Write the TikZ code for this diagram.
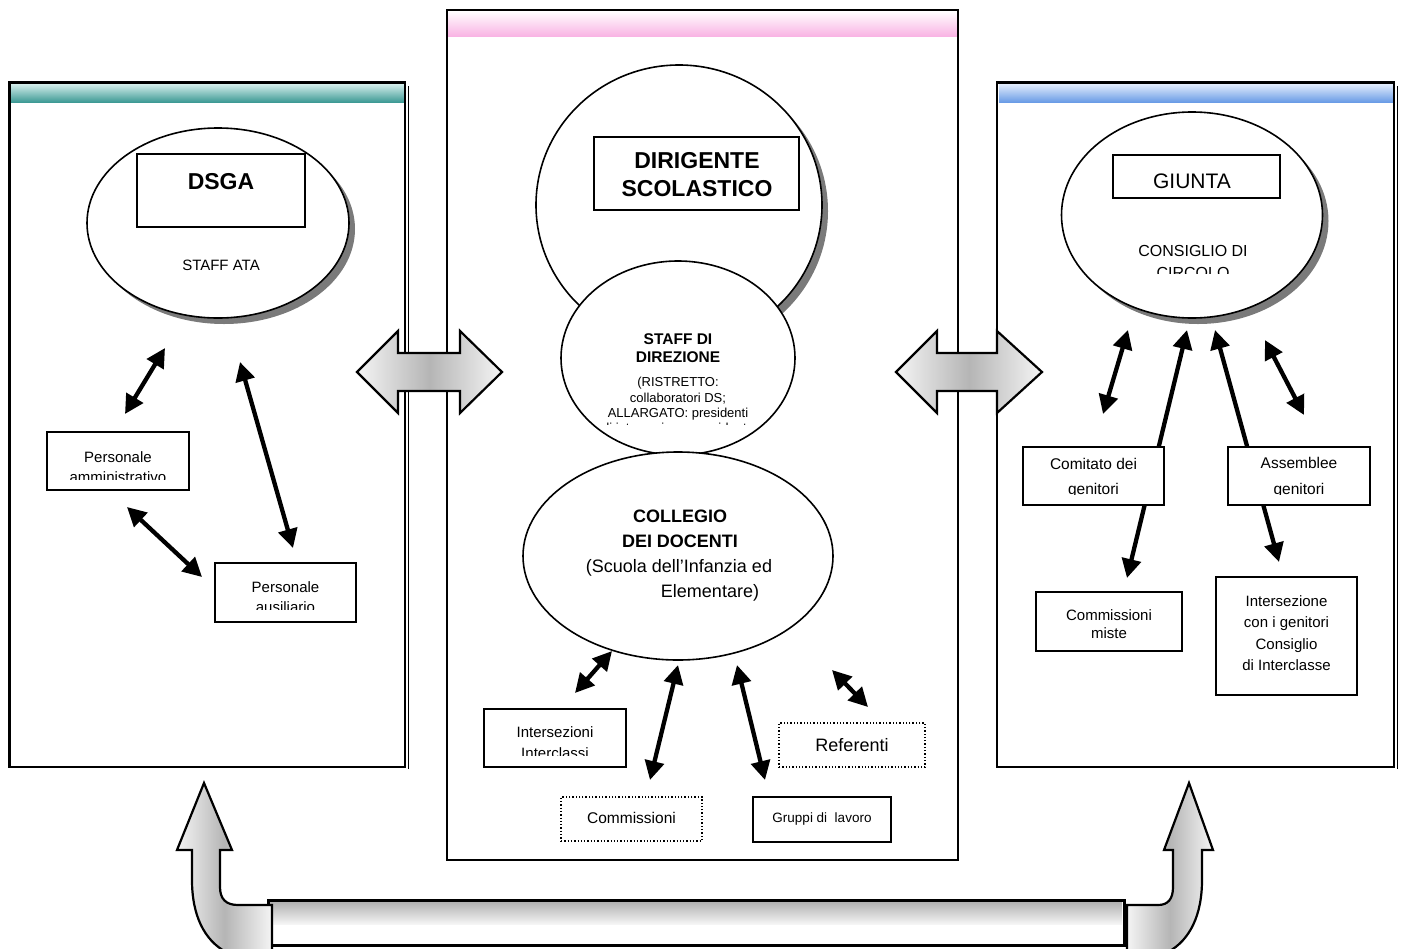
\documentclass[tikz,border=0pt]{standalone}
\usepackage{fontspec}
\setmainfont{Liberation Sans}
\usetikzlibrary{shapes.geometric,arrows.meta,shadows}
\definecolor{tealA}{HTML}{D4EEEC}
\definecolor{tealB}{HTML}{3E9A95}
\definecolor{blueA}{HTML}{E2ECFC}
\definecolor{blueB}{HTML}{6A9CE6}
\definecolor{pinkB}{HTML}{F9B4E4}
\definecolor{shad}{HTML}{7A7A7A}
\newcommand\fsz[1]{\fontsize{#1}{#1}\selectfont}
\begin{document}
\begin{tikzpicture}[x=1pt,y=-1pt,
  panel/.style={draw, line width=2.6pt},
  oval/.style={ellipse, draw, line width=1.6pt, fill=white, inner sep=0pt},
  shadoval/.style={oval, drop shadow={shadow xshift=6pt, shadow yshift=-6pt, fill=shad, opacity=1}},
  box/.style={draw, line width=1.5pt, fill=white, inner sep=0pt},
  dotbox/.style={draw, line width=1.3pt, dotted, fill=white, inner sep=0pt},
  tl/.style={anchor=base, inner sep=0pt, font=\fsz{15}},
  biarrow/.style={{Triangle[length=19pt,width=19pt]}-{Triangle[length=19pt,width=19pt]}, line width=4.3pt},
  blockshade/.style={draw, line width=2.2pt, line join=miter, left color=gray!8, right color=gray!8, middle color=gray!58},
]
\useasboundingbox (0,0) rectangle (1403,948);

% ---------- panels ----------
\shade[top color=tealA, bottom color=tealB] (11,84) rectangle (404,102);
\draw[panel] (9.5,82.5) rectangle (405,767);
\draw[line width=1pt] (408,86) -- (408,769);

\shade[top color=white, bottom color=pinkB] (448,11) rectangle (957,36);
\draw[line width=2pt] (447,10) rectangle (958,860);

\shade[top color=blueA, bottom color=blueB] (999,84) rectangle (1393,102);
\draw[panel] (997,82.5) rectangle (1394,767);
\draw[line width=1pt] (1397,86) -- (1397,769);

% ---------- left panel ----------
\node[shadoval, minimum width=262pt, minimum height=190pt] (dsgaE) at (218,223) {};
\node[box, minimum width=168pt, minimum height=73pt] (dsga) at (221,190.5) {};
\node[tl, font=\bfseries\fsz{23}] (dsgat) at (221,189) {DSGA};
\node[tl] (ata) at (221,270) {STAFF ATA};

\coordinate (l1a) at (165,348); \coordinate (l1b) at (125,414);
\coordinate (l2a) at (240,362); \coordinate (l2b) at (293,548);
\coordinate (l3a) at (127,507); \coordinate (l3b) at (202,577);
\draw[biarrow] (l1a) -- (l1b);
\draw[biarrow] (l2a) -- (l2b);
\draw[biarrow] (l3a) -- (l3b);

\node[box, minimum width=142pt, minimum height=58pt] (pa) at (118,461) {};
\begin{scope}
\clip (49,434) rectangle (187,479.5);
\node[tl] (pa1) at (118,462) {Personale};
\node[tl] (pa2) at (118,482) {amministrativo};
\end{scope}
\node[box, minimum width=141pt, minimum height=59pt] (pau) at (285.5,592.5) {};
\begin{scope}
\clip (217,565) rectangle (354,609.5);
\node[tl] (pau1) at (285.5,592) {Personale};
\node[tl] (pau2) at (285.5,612) {ausiliario};
\end{scope}

% ---------- middle panel ----------
\node[shadoval, minimum width=286pt, minimum height=280pt] (ds) at (679,205) {};
\node[box, minimum width=205pt, minimum height=73pt] (dsbox) at (696.5,173.5) {};
\node[tl, font=\bfseries\fsz{23}] (ds1) at (697,168) {DIRIGENTE};
\node[tl, font=\bfseries\fsz{23}] (ds2) at (697,196) {SCOLASTICO};

\node[oval, minimum width=234pt, minimum height=194pt] (staff) at (678,358) {};
\node[tl, font=\bfseries\fsz{15.5}] (st1) at (678,344) {STAFF DI};
\node[tl, font=\bfseries\fsz{15.5}] (st2) at (678,362) {DIREZIONE};
\begin{scope}
\clip (580,368) rectangle (780,424.5);
\node[tl, font=\fsz{13}] (st3) at (678,386) {(RISTRETTO:};
\node[tl, font=\fsz{13}] (st4) at (678,402) {collaboratori DS;};
\node[tl, font=\fsz{13}] (st5) at (678,417) {ALLARGATO: presidenti};
\node[tl, font=\fsz{13}] (st6) at (678,432.5) {di intersezione, presidente};
\end{scope}

\node[oval, minimum width=310pt, minimum height=208pt] (coll) at (678,556) {};
\node[tl, font=\bfseries\fsz{18}] (co1) at (680,522) {COLLEGIO};
\node[tl, font=\bfseries\fsz{18}] (co2) at (680,547) {DEI DOCENTI};
\node[tl, font=\fsz{18}] (co3) at (679,572) {(Scuola dell’Infanzia ed};
\node[tl, font=\fsz{18}] (co4) at (710,597) {Elementare)};

\coordinate (m1a) at (612,651); \coordinate (m1b) at (575,693);
\coordinate (m2a) at (678,665); \coordinate (m2b) at (650,780);
\coordinate (m3a) at (737,665); \coordinate (m3b) at (765,780);
\coordinate (m4a) at (832,670); \coordinate (m4b) at (868,707);
\draw[biarrow] (m1a) -- (m1b);
\draw[biarrow] (m2a) -- (m2b);
\draw[biarrow] (m3a) -- (m3b);
\draw[biarrow] (m4a) -- (m4b);

\node[box, minimum width=142pt, minimum height=58pt] (ii) at (555,738) {};
\begin{scope}
\clip (486,711) rectangle (624,755.5);
\node[tl] (ii1) at (555,737) {Intersezioni};
\node[tl] (ii2) at (555,758) {Interclassi};
\end{scope}
\node[dotbox, minimum width=146pt, minimum height=44pt] (ref) at (852,745) {};
\node[tl, font=\fsz{18}] (reft) at (852,751) {Referenti};
\node[dotbox, minimum width=141pt, minimum height=44pt] (com) at (631.5,819) {};
\node[tl, font=\fsz{15.5}] (comt) at (631.5,823) {Commissioni};
\node[box, minimum width=138pt, minimum height=45pt] (grp) at (822,819.5) {};
\node[tl, font=\fsz{13.5}] (grpt) at (822,822) {Gruppi di\ \ lavoro};

% ---------- right panel ----------
\node[shadoval, minimum width=261pt, minimum height=206pt] (giuntaE) at (1192,215) {};
\node[box, minimum width=167pt, minimum height=43pt] (giunta) at (1196.5,176.5) {};
\node[tl, font=\fsz{21}] (giuntat) at (1192,188) {GIUNTA};
\begin{scope}
\clip (1120,235) rectangle (1280,273);
\node[tl, font=\fsz{16}] (cc1) at (1193,256) {CONSIGLIO DI};
\node[tl, font=\fsz{16}] (cc2) at (1193,278) {CIRCOLO};
\end{scope}

\coordinate (r1a) at (1128,330); \coordinate (r1b) at (1103,414);
\coordinate (r2a) at (1187,330); \coordinate (r2b) at (1127,578);
\coordinate (r3a) at (1215,330); \coordinate (r3b) at (1279,562);
\coordinate (r4a) at (1265,340); \coordinate (r4b) at (1304,415);
\draw[biarrow] (r1a) -- (r1b);
\draw[biarrow] (r2a) -- (r2b);
\draw[biarrow] (r3a) -- (r3b);
\draw[biarrow] (r4a) -- (r4b);

\node[box, minimum width=141pt, minimum height=58pt] (cg) at (1093.5,476) {};
\begin{scope}
\clip (1025,449) rectangle (1162,494);
\node[tl, font=\fsz{15.5}] (cg1) at (1093.5,469) {Comitato dei};
\node[tl, font=\fsz{15.5}] (cg2) at (1093.5,494) {genitori};
\end{scope}
\node[box, minimum width=142pt, minimum height=58pt] (ag) at (1299,476) {};
\begin{scope}
\clip (1230,449) rectangle (1368,494);
\node[tl, font=\fsz{15.5}] (ag1) at (1299,468) {Assemblee};
\node[tl, font=\fsz{15.5}] (ag2) at (1299,494) {genitori};
\end{scope}
\node[box, minimum width=146pt, minimum height=59pt] (cm) at (1109,621.5) {};
\node[tl] (cm1) at (1109,620) {Commissioni};
\node[tl] (cm2) at (1109,638) {miste};
\node[box, minimum width=141pt, minimum height=118pt] (ig) at (1286.5,636) {};
\node[tl] (ig1) at (1286.5,606) {Intersezione};
\node[tl] (ig2) at (1286.5,627.5) {con i genitori};
\node[tl] (ig3) at (1286.5,649) {Consiglio};
\node[tl] (ig4) at (1286.5,670.5) {di Interclasse};

% ---------- side block arrows ----------
\path[blockshade] (357,372) -- (398,331) -- (398,353) -- (460,353) -- (460,331) -- (502,372)
  -- (460,413) -- (460,391) -- (398,391) -- (398,413) -- cycle;
\path[blockshade] (896,372) -- (937,331) -- (937,353) -- (997,353) -- (997,331) -- (1042,372)
  -- (997,413) -- (997,391) -- (937,391) -- (937,413) -- cycle;

% ---------- bottom U arrow ----------
\draw[line width=3pt, fill=white] (268,900) rectangle (1124,945);
\shade[top color=gray!60, bottom color=gray!8] (270,902.5) rectangle (1122,924);
\path[blockshade] (204,783) -- (232,850) -- (220,850) -- (220,887)
  .. controls (220,899) and (226,905) .. (238,905) -- (272,905) -- (272,952) -- (226,952)
  .. controls (204,940) and (192,915) .. (192,880) -- (192,850) -- (177,850) -- cycle;
\path[blockshade] (1189,783) -- (1213,850) -- (1202,850) -- (1202,880)
  .. controls (1202,915) and (1190,940) .. (1168,952) -- (1127,952) -- (1127,905) -- (1158,905)
  .. controls (1168,905) and (1173,899) .. (1173,887) -- (1173,850) -- (1164,850) -- cycle;
\end{tikzpicture}
\end{document}
